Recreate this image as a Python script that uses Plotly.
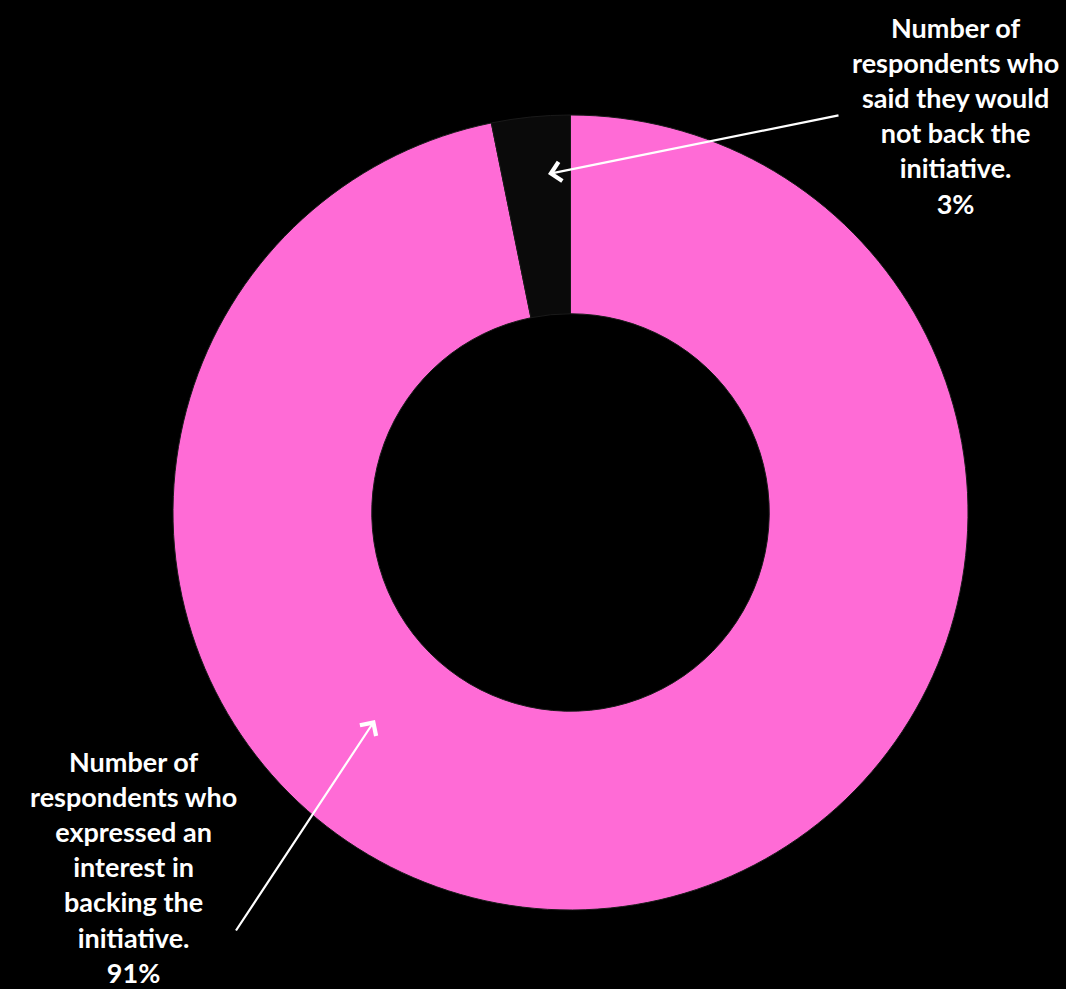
import plotly.graph_objects as go

# Data
categories = [
    "Number of respondents who expressed an interest in backing the initiative.",
    "Number of respondents who said they would not back the initiative.",
]
values = [91, 3]
pct_labels = ["91%", "3%"]
colors = ["#FF6BD6", "#0A0A0A"]

W, H = 1066, 989

def px(x):
    return x / W

def py(y):
    return 1 - y / H

cx, cy, r = 570.5, 512.5, 397.5

fig = go.Figure(go.Pie(
    labels=categories,
    values=values,
    hole=0.5,
    sort=False,
    direction="clockwise",
    rotation=0,
    textinfo="none",
    hoverinfo="label+percent",
    marker=dict(colors=colors, line=dict(color="#1a1a1a", width=1)),
    domain=dict(x=[px(cx - r), px(cx + r)], y=[py(cy + r), py(cy - r)]),
    showlegend=False,
))

font = dict(family="Lato, 'Open Sans', sans-serif", size=27, color="white")

top_text = "<b>Number of<br>respondents who<br>said they would<br>not back the<br>initiative.<br>" + pct_labels[1] + "</b>"
bottom_text = "<b>Number of<br>respondents who<br>expressed an<br>interest in<br>backing the<br>initiative.<br>" + pct_labels[0] + "</b>"

annotations = [
    dict(x=px(955), y=py(116), xref="paper", yref="paper", text=top_text,
         showarrow=False, xanchor="center", yanchor="middle", align="center", font=font),
    dict(x=px(133), y=py(867), xref="paper", yref="paper", text=bottom_text,
         showarrow=False, xanchor="center", yanchor="middle", align="center", font=font),
    dict(x=px(548), y=py(174), xref="paper", yref="paper", text="",
         showarrow=True, ax=292, ay=-59, axref="pixel", ayref="pixel",
         arrowhead=4, arrowsize=1.7, arrowwidth=2.2, arrowcolor="white", standoff=0),
    dict(x=px(375), y=py(720), xref="paper", yref="paper", text="",
         showarrow=True, ax=-140, ay=212, axref="pixel", ayref="pixel",
         arrowhead=4, arrowsize=1.7, arrowwidth=2.2, arrowcolor="white", standoff=0),
]

fig.update_layout(
    width=W, height=H,
    margin=dict(l=0, r=0, t=0, b=0),
    paper_bgcolor="black",
    plot_bgcolor="black",
    annotations=annotations,
)

fig.write_html(
    "out.html",
    config={"displayModeBar": False},
    post_script="document.body.style.margin='0';document.body.style.background='black';document.body.style.overflow='hidden';",
)
